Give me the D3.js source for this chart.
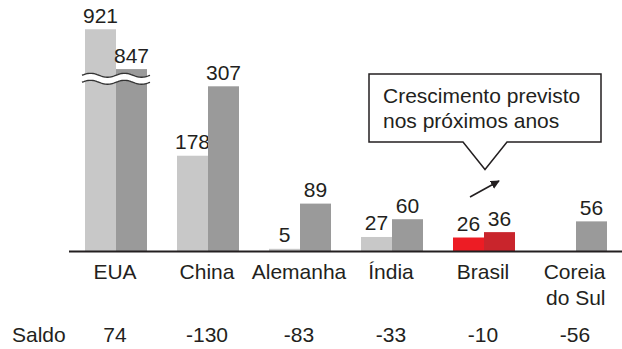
<!DOCTYPE html>
<html>
<head>
<meta charset="utf-8">
<script src="https://cdn.jsdelivr.net/npm/d3@7"></script>
<style>
  body { margin: 0; background: #fff; }
  text { font-family: "Liberation Sans", Arial, sans-serif; fill: #231f20; }
</style>
</head>
<body>
<svg id="chart" width="622" height="349"></svg>
<script>
// dados
var categorias = ['EUA', 'China', 'Alemanha', 'Índia', 'Brasil', 'Coreia do Sul'];
var atual = [921, 178, 5, 27, 26, null];
var previsto = [847, 307, 89, 60, 36, 56];
var saldo = [74, -130, -83, -33, -10, -56];
var series = ['atual', 'previsto'];

var corte = 400;      // acima disso a barra é "quebrada"
var desconto = 508;   // quanto se tira do valor acima do corte

var svg = d3.select('#chart');
var base = 251.5;

var x0 = d3.scaleBand()
    .domain(categorias)
    .range([70, 622])
    .paddingInner(0.326)
    .paddingOuter(0.163);

var x1 = d3.scaleBand()
    .domain(series)
    .range([0, x0.bandwidth()]);

var y = d3.scaleLinear()
    .domain([0, 420])
    .range([base, 25.5]);

function yv(v) {
  return v > corte ? y(v - desconto) : y(v);
}

var cores = {
  atual: '#c8c8c8',
  previsto: '#9a9a9a'
};
var coresBrasil = {
  atual: '#ed1c24',
  previsto: '#c9252c'
};

var dados = categorias.map(function(c, i) {
  return {cat: c, valores: [
    {serie: 'atual', v: atual[i]},
    {serie: 'previsto', v: previsto[i]}
  ]};
});

var grupos = svg.selectAll('g.grupo')
    .data(dados)
    .enter()
    .append('g')
    .attr('class', 'grupo')
    .attr('transform', function(d) { return 'translate(' + x0(d.cat) + ',0)'; });

var barras = grupos.selectAll('g.barra')
    .data(function(d) {
      return d.valores.filter(function(b) { return b.v != null; })
        .map(function(b) { b.cat = d.cat; return b; });
    })
    .enter()
    .append('g')
    .attr('class', 'barra');

barras.append('rect')
    .attr('x', function(d) { return x1(d.serie); })
    .attr('width', x1.bandwidth())
    .attr('y', function(d) { return yv(d.v); })
    .attr('height', function(d) { return base - yv(d.v); })
    .attr('fill', function(d) {
      return d.cat === 'Brasil' ? coresBrasil[d.serie] : cores[d.serie];
    });

barras.append('text')
    .attr('x', function(d) { return x1(d.serie) + x1.bandwidth() / 2; })
    .attr('y', function(d) { return yv(d.v) - 6.5; })
    .attr('text-anchor', 'middle')
    .style('font-size', '21px')
    .text(function(d) { return d.v; });

// quebra de escala nas barras dos EUA
var xa = x0('EUA') - 3, xb = x0('EUA') + x0.bandwidth() + 3;
var yq = y(321);
var onda = d3.range(xa, xb + 0.5, 1).map(function(px) {
  return [px, Math.sin((px - xa) / 34 * 2 * Math.PI) * -2];
});
var linha = d3.line().curve(d3.curveBasis);
var cima = onda.map(function(p) { return [p[0], yq - 3.5 + p[1]]; });
var baixo = onda.map(function(p) { return [p[0], yq + 3.5 + p[1]]; });

svg.append('path')
    .attr('d', linha(cima.concat(baixo.slice().reverse())))
    .attr('fill', '#fff');
svg.append('path')
    .attr('d', linha(cima))
    .attr('fill', 'none')
    .attr('stroke', '#333')
    .attr('stroke-width', 1.3);
svg.append('path')
    .attr('d', linha(baixo))
    .attr('fill', 'none')
    .attr('stroke', '#333')
    .attr('stroke-width', 1.3);

// eixo
svg.append('line')
    .attr('x1', 69).attr('x2', 622)
    .attr('y1', base).attr('y2', base)
    .attr('stroke', '#231f20')
    .attr('stroke-width', 2);

// rótulos das categorias
var rotulos = svg.selectAll('text.cat')
    .data(categorias)
    .enter()
    .append('text')
    .attr('class', 'cat')
    .style('font-size', '21px')
    .attr('text-anchor', function(d) { return d === 'Coreia do Sul' ? 'end' : 'middle'; })
    .attr('x', function(d) {
      return d === 'Coreia do Sul' ? 605.5 : x0(d) + x0.bandwidth() / 2 - 1;
    })
    .attr('y', 278.5);

rotulos.each(function(d) {
  var t = d3.select(this);
  if (d === 'Coreia do Sul') {
    t.append('tspan').attr('x', 605.5).attr('dy', 0).text('Coreia');
    t.append('tspan').attr('x', 605.5).attr('dy', 26.5).text('do Sul');
  } else {
    t.text(d);
  }
});

// saldo
svg.append('text')
    .attr('x', 12)
    .attr('y', 341.5)
    .style('font-size', '21px')
    .text('Saldo');

svg.selectAll('text.saldo')
    .data(saldo)
    .enter()
    .append('text')
    .attr('class', 'saldo')
    .attr('x', function(d, i) { return x0(categorias[i]) + x0.bandwidth() / 2 - 1; })
    .attr('y', 341.5)
    .attr('text-anchor', 'middle')
    .style('font-size', '21px')
    .text(function(d) { return d; });

// balão
var bx = 369, by = 74, bw = 232, bh = 68;
var balao = [
  [bx, by], [bx + bw, by], [bx + bw, by + bh], [507, by + bh],
  [485, 169.5], [463, by + bh], [bx, by + bh]
];
svg.append('path')
    .attr('d', d3.line()(balao) + 'Z')
    .attr('fill', '#fff')
    .attr('stroke', '#231f20')
    .attr('stroke-width', 1.5);

svg.append('text')
    .attr('x', 383).attr('y', 103)
    .style('font-size', '21px')
    .text('Crescimento previsto');
svg.append('text')
    .attr('x', 383).attr('y', 128)
    .style('font-size', '21px')
    .text('nos próximos anos');

// seta
svg.append('defs').append('marker')
    .attr('id', 'ponta')
    .attr('viewBox', '0 0 10 10')
    .attr('refX', 9).attr('refY', 5)
    .attr('markerWidth', 6).attr('markerHeight', 6)
    .attr('orient', 'auto')
    .append('path')
    .attr('d', 'M0,0L10,5L0,10Z')
    .attr('fill', '#231f20');

svg.append('line')
    .attr('x1', 470).attr('y1', 197)
    .attr('x2', 499).attr('y2', 181)
    .attr('stroke', '#231f20')
    .attr('stroke-width', 1.5)
    .attr('marker-end', 'url(#ponta)');
</script>
</body>
</html>
